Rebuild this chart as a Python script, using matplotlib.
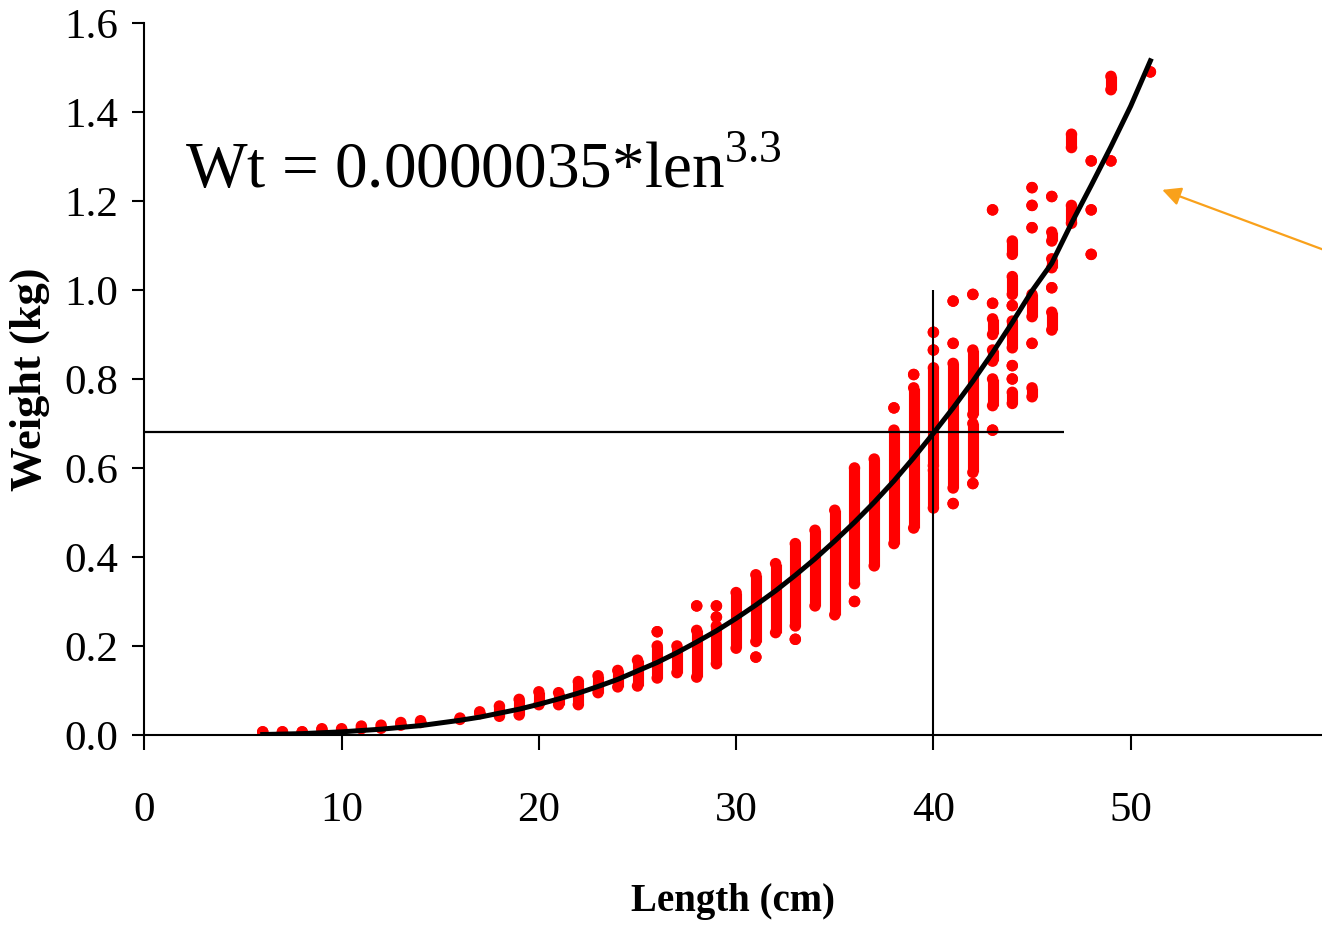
import numpy as np
import matplotlib
matplotlib.use("Agg")
import matplotlib.pyplot as plt

plt.rcParams['font.family'] = ['Liberation Serif', 'DejaVu Serif']
plt.rcParams['mathtext.fontset'] = 'custom'
plt.rcParams['mathtext.rm'] = 'Liberation Serif'

# fitted curve (length cm, weight kg)
curve_len = list(range(6, 52))
curve_wt = [0.001, 0.002, 0.003, 0.005, 0.007, 0.010, 0.013, 0.017, 0.021, 0.027,
            0.033, 0.040, 0.049, 0.058, 0.069, 0.081, 0.094, 0.109, 0.125, 0.144,
            0.163, 0.185, 0.209, 0.234, 0.262, 0.292, 0.324, 0.359, 0.396, 0.436,
            0.478, 0.523, 0.571, 0.623, 0.678, 0.735, 0.795, 0.859, 0.927, 0.998,
            1.060, 1.150, 1.235, 1.322, 1.413, 1.515]

# observed weights: runs of stacked points at each length (lo == hi is a single point)
obs_len = [6, 7, 8, 9, 10, 11, 12, 13, 14, 16, 17, 18, 19, 20, 21, 22, 23, 24, 25,
           26, 26, 27, 28, 28, 29, 29, 29, 30, 31, 31, 32, 33, 33, 34, 35, 36, 36, 37,
           38, 38, 39, 39, 40, 40, 40, 40, 41, 41, 41, 41, 42, 42, 42, 42,
           43, 43, 43, 43, 43, 43, 44, 44, 44, 44, 44, 44, 44,
           45, 45, 45, 45, 45, 45, 46, 46, 46, 46, 46, 47, 47, 48, 48, 48, 49, 49, 51]
obs_lo = [0.007, 0.007, 0.007, 0.012, 0.012, 0.014, 0.015, 0.022, 0.028, 0.035, 0.048,
          0.042, 0.045, 0.068, 0.068, 0.068, 0.095, 0.108, 0.110,
          0.128, 0.232, 0.140, 0.130, 0.290, 0.160, 0.265, 0.290, 0.195, 0.210, 0.175,
          0.230, 0.245, 0.215, 0.290, 0.270, 0.340, 0.300, 0.380,
          0.430, 0.735, 0.465, 0.810, 0.510, 0.605, 0.865, 0.905, 0.555, 0.520, 0.880, 0.975,
          0.590, 0.720, 0.565, 0.990,
          0.685, 0.740, 0.840, 0.900, 0.970, 1.180, 0.745, 0.800, 0.830, 0.870, 0.965, 0.990, 1.080,
          0.760, 0.880, 0.940, 1.140, 1.190, 1.230, 0.910, 1.005, 1.050, 1.110, 1.210,
          1.150, 1.320, 1.080, 1.180, 1.290, 1.290, 1.450, 1.490]
obs_hi = [0.007, 0.007, 0.007, 0.014, 0.014, 0.020, 0.022, 0.028, 0.032, 0.038, 0.052,
          0.065, 0.080, 0.097, 0.095, 0.120, 0.133, 0.145, 0.168,
          0.200, 0.232, 0.200, 0.235, 0.290, 0.245, 0.265, 0.290, 0.320, 0.360, 0.175,
          0.385, 0.430, 0.215, 0.460, 0.505, 0.600, 0.300, 0.620,
          0.685, 0.735, 0.780, 0.810, 0.595, 0.825, 0.865, 0.905, 0.835, 0.520, 0.880, 0.975,
          0.700, 0.865, 0.565, 0.990,
          0.685, 0.800, 0.865, 0.935, 0.970, 1.180, 0.770, 0.800, 0.830, 0.930, 0.965, 1.030, 1.110,
          0.780, 0.880, 0.990, 1.140, 1.190, 1.230, 0.950, 1.005, 1.070, 1.130, 1.210,
          1.190, 1.350, 1.080, 1.180, 1.290, 1.290, 1.480, 1.490]

ref_len = 40
ref_wt = 0.68
equation = "Wt = 0.0000035*len$^{3.3}$"

fig = plt.figure(figsize=(13.22, 9.26), dpi=100)
ax = fig.add_axes([0.1092, 0.2063, 0.8908, 0.7689])

lc = ax.vlines(obs_len, obs_lo, obs_hi, colors='#ff0000', lw=8, zorder=2)
lc.set_capstyle('butt')
ax.scatter(obs_len + obs_len, obs_lo + obs_hi, s=68, color='#ff0000',
           edgecolors='none', zorder=2)

ax.plot(curve_len, curve_wt, color='black', lw=3.6, zorder=4)
ax.hlines(ref_wt, 0, 46.6, colors='black', lw=1.6, zorder=3)
ax.vlines(ref_len, 0, 1.0, colors='black', lw=1.5, zorder=3)

ax.text(2.05, 1.23, equation, fontsize=47, va='baseline', ha='left')

ax.annotate('', xy=(51.6, 1.225), xytext=(59.8, 1.09),
            arrowprops=dict(arrowstyle='-|>', color='#f9a11b', lw=1.6,
                            mutation_scale=28, shrinkA=0, shrinkB=0),
            annotation_clip=False)

ax.set_xlim(0, 59.7)
ax.set_ylim(0, 1.6)
ax.set_xticks([0, 10, 20, 30, 40, 50])
ax.set_yticks(np.arange(0, 1.61, 0.2))
ax.set_yticklabels(["%.1f" % v for v in np.arange(0, 1.61, 0.2)])

for s in ['top', 'right']:
    ax.spines[s].set_visible(False)
for s in ['left', 'bottom']:
    ax.spines[s].set_linewidth(1.5)

ax.tick_params(axis='x', direction='out', length=11, width=1.5, pad=30, labelsize=31)
ax.tick_params(axis='y', direction='out', length=9, width=1.5, pad=10, labelsize=31)

ax.set_xlabel("Length (cm)", fontsize=28, fontweight='bold', labelpad=38)
ax.set_ylabel("Weight (kg)", fontsize=32, fontweight='bold', labelpad=10)

fig.savefig("out.png", dpi=100)
